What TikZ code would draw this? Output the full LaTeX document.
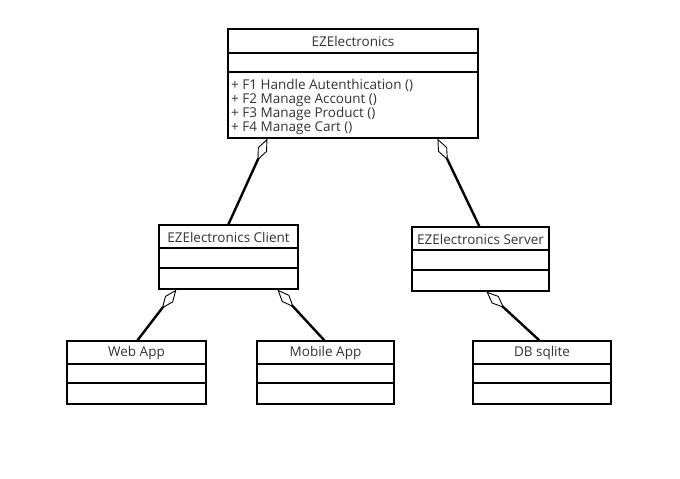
\documentclass[tikz,border=0pt]{standalone}
\usepackage{fontspec}
\setmainfont{Open Sans}
\usetikzlibrary{arrows.meta,calc}

\tikzset{
  cls/.style={draw,line width=1.2pt,inner sep=0pt},
  ttl/.style={font=\fontsize{13.5}{14}\selectfont,text=black!80,inner sep=0pt},
  agg/.style={line width=2.4pt,-{Diamond[open,length=24pt,width=10pt,line width=0.9pt]}}
}

\begin{document}
\begin{tikzpicture}[x=1pt,y=1pt,yscale=-1]
        \useasboundingbox (0,0) rectangle (680,479);

        % classes
        \node[cls,minimum width=250pt,minimum height=109pt] (ez) at (353,83.5) {};
        \node[cls,minimum width=139pt,minimum height=64pt] (client) at (228.5,257) {};
        \node[cls,minimum width=137pt,minimum height=64pt] (server) at (480.5,259) {};
        \node[cls,minimum width=139pt,minimum height=63pt] (web) at (136.5,372.5) {};
        \node[cls,minimum width=137pt,minimum height=63pt] (mobile) at (325.5,372.5) {};
        \node[cls,minimum width=138pt,minimum height=63pt] (db) at (542,372.5) {};

        % compartments
        \foreach \y in {53,72} {
          \draw[line width=1.2pt] (ez.west |- 0,\y) -- (ez.east |- 0,\y);
        }
        \foreach \y in {248,268} {
          \draw[line width=1.2pt] (client.west |- 0,\y) -- (client.east |- 0,\y);
        }
        \foreach \y in {250,270} {
          \draw[line width=1.2pt] (server.west |- 0,\y) -- (server.east |- 0,\y);
        }
        \foreach \n in {web,mobile,db} {
          \foreach \y in {364,383} {
            \draw[line width=1.2pt] (\n.west |- 0,\y) -- (\n.east |- 0,\y);
          }
        }

        % names
        \node[ttl] (ezname) at (353,41.5) {EZElectronics};
        \node[ttl] (clientname) at (228.5,237) {EZElectronics Client};
        \node[ttl] (servername) at (480.5,239) {EZElectronics Server};
        \node[ttl] (webname) at (136.5,353) {Web App};
        \node[ttl] (mobilename) at (325.5,353) {Mobile App};
        \node[ttl] (dbname) at (542,353) {DB sqlite};
        \node[ttl,anchor=north west,align=left] (ezops) at (231,79.5)
          {+ F1 Handle Autenthication ()\\+ F2 Manage Account ()\\+ F3 Manage Product ()\\+ F4 Manage Cart ()};

        % aggregations
        \draw[agg] ($(client.north west)+(70,0)$) -- ($(ez.south west)+(40,0)$);
        \draw[agg] ($(server.north west)+(68,0)$) -- ($(ez.south west)+(210,0)$);
        \draw[agg] ($(web.north west)+(71,0)$) -- ($(client.south west)+(18,0)$);
        \draw[agg] ($(mobile.north west)+(68,0)$) -- ($(client.south west)+(119,0)$);
        \draw[agg] ($(db.north west)+(67,0)$) -- ($(server.south west)+(75,0)$);
    \end{tikzpicture}
\end{document}
